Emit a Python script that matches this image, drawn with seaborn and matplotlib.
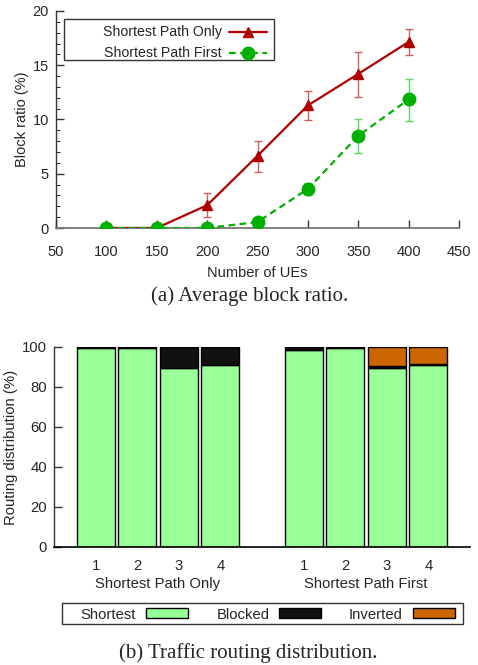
import numpy as np
import pandas as pd
import matplotlib
matplotlib.use("Agg")
import matplotlib.pyplot as plt
import seaborn as sns
from matplotlib.patches import Rectangle
from matplotlib.lines import Line2D
from matplotlib.ticker import MultipleLocator
import matplotlib.transforms as mtransforms

# ---------------- data ----------------
ues = [100, 150, 200, 250, 300, 350, 400]
spo_mean = [0.0, 0.0, 2.1, 6.65, 11.3, 14.2, 17.15]
spo_low = [0.0, 0.0, 1.05, 5.15, 9.95, 12.1, 15.95]
spo_high = [0.0, 0.0, 3.2, 8.05, 12.65, 16.25, 18.35]
spf_mean = [0.0, 0.0, 0.0, 0.55, 3.6, 8.5, 11.85]
spf_low = [0.0, 0.0, 0.0, 0.3, 3.0, 6.95, 9.9]
spf_high = [0.0, 0.0, 0.0, 0.85, 4.15, 10.0, 13.75]

groups = ["Shortest Path Only", "Shortest Path First"]
bar_labels = ["1", "2", "3", "4"]
shortest = [[99.7, 99.7, 89.3, 91.2], [98.5, 99.5, 89.6, 91.1]]
blocked = [[0.3, 0.3, 10.7, 8.8], [1.5, 0.5, 0.7, 0.6]]
inverted = [[0.0, 0.0, 0.0, 0.0], [0.0, 0.0, 9.7, 8.3]]
legend_b = ["Shortest", "Blocked", "Inverted"]

sns.set_theme(style="white")
plt.rcParams["font.family"] = ["Liberation Sans", "DejaVu Sans"]
plt.rcParams["font.size"] = 10

RED = "#b00000"
GREEN = "#00b000"
RED_E = "#d06060"
GREEN_E = "#5fd35f"
LGREEN = "#99ff99"
BLACK = "#111111"
ORANGE = "#cc6600"

W, H = 478, 665
fig = plt.figure(figsize=(W / 100, H / 100), dpi=100)


def fx(px):
    return px / W


def fy(py):
    return 1 - py / H


# ---------------- panel (a) ----------------
ax1 = fig.add_axes([fx(56), fy(228), (459 - 56) / W, (228 - 11) / H])
df = pd.DataFrame({
    "UEs": ues * 2,
    "ratio": spo_mean + spf_mean,
    "series": [groups[0]] * len(ues) + [groups[1]] * len(ues),
})
ax1.errorbar(ues, spo_mean,
             yerr=[np.array(spo_mean) - np.array(spo_low), np.array(spo_high) - np.array(spo_mean)],
             fmt="none", ecolor=RED_E, elinewidth=1.0, capsize=3, capthick=1.0, zorder=2)
ax1.errorbar(ues, spf_mean,
             yerr=[np.array(spf_mean) - np.array(spf_low), np.array(spf_high) - np.array(spf_mean)],
             fmt="none", ecolor=GREEN_E, elinewidth=1.0, capsize=3, capthick=1.0, zorder=2)
sns.lineplot(data=df, x="UEs", y="ratio", hue="series", style="series",
             palette={groups[0]: RED, groups[1]: GREEN},
             dashes={groups[0]: "", groups[1]: (3, 2)},
             markers={groups[0]: "^", groups[1]: "o"},
             markersize=8, linewidth=1.6, markeredgewidth=1.0,
             ax=ax1, legend=False, zorder=3)
for ln in ax1.lines:
    if ln.get_marker() == "^":
        ln.set_markerfacecolor(RED)
        ln.set_markeredgecolor(RED)
        ln.set_markersize(7)
    elif ln.get_marker() == "o":
        ln.set_markerfacecolor(GREEN)
        ln.set_markeredgecolor(GREEN)
        ln.set_markersize(9)

ax1.set_xlim(50, 450)
ax1.set_ylim(0, 20)
ax1.set_xticks([50, 100, 150, 200, 250, 300, 350, 400, 450])
ax1.yaxis.set_major_locator(MultipleLocator(5))
ax1.yaxis.set_minor_locator(MultipleLocator(1))
ax1.tick_params(axis="y", which="major", direction="in", length=6, width=1.0,
                color="#333333", labelsize=10.5, pad=5, left=True, right=False)
ax1.tick_params(axis="x", which="major", direction="in", length=6, width=1.0,
                color="#333333", labelsize=10.5, pad=12, bottom=True, top=False)
ax1.tick_params(axis="y", which="minor", direction="in", length=3, width=0.8,
                color="#333333", left=True)
for s in ["top", "right"]:
    ax1.spines[s].set_visible(False)
ax1.spines["left"].set_color("#333333")
ax1.spines["bottom"].set_color("#777777")
ax1.spines["left"].set_linewidth(1.0)
ax1.spines["bottom"].set_linewidth(1.3)
ax1.set_xlabel("Number of UEs", fontsize=10.5, labelpad=5)
ax1.set_ylabel("Block ratio (%)", fontsize=10.5, labelpad=3)

# gnuplot-style key (text right-aligned, sample on the right)
fig.patches.append(Rectangle((fx(64), fy(60)), (274 - 64) / W, (60 - 19) / H,
                             transform=fig.transFigure, facecolor="white",
                             edgecolor="#333333", linewidth=1.0, zorder=5))
key_rows = [(32, RED, "-", "^", 7), (53, GREEN, (0, (3, 2)), "o", 9)]
for (py, col, ls, mk, ms), name in zip(key_rows, groups):
    fig.text(fx(222), fy(py), name, ha="right", va="center", fontsize=10.2, zorder=6)
    fig.lines.append(Line2D([fx(229), fx(267)], [fy(py), fy(py)], transform=fig.transFigure,
                            color=col, ls=ls, lw=1.6, zorder=6))
    fig.lines.append(Line2D([fx(248)], [fy(py)], transform=fig.transFigure, color=col,
                            marker=mk, markersize=ms, ls="none", zorder=7))

fig.text(fx(250), fy(296), "(a) Average block ratio.", ha="center", va="center",
         fontsize=15, family=["Liberation Serif", "DejaVu Serif"])

# ---------------- panel (b) ----------------
ax2 = fig.add_axes([fx(54), fy(547), 416 / W, 200 / H])
positions = []
ticklabels = []
blend = mtransforms.blended_transform_factory(ax2.transData, ax2.transAxes)
for g, gname in enumerate(groups):
    pos = [g * 5 + i for i in range(4)]
    positions += pos
    ticklabels += bar_labels
    s = np.array(shortest[g])
    b = np.array(blocked[g])
    v = np.array(inverted[g])
    kw = dict(width=0.91, edgecolor="black", linewidth=1.0)
    ax2.bar(pos, s, color=LGREEN, **kw)
    ax2.bar(pos, b, bottom=s, color=BLACK, **kw)
    ax2.bar(pos, v, bottom=s + b, color=ORANGE, **kw)
    ax2.text(np.mean(pos), -(584 - 547) / 200, gname, ha="center", va="center",
             fontsize=10.7, transform=blend)

ax2.set_xlim(-1, 9)
ax2.set_ylim(0, 100)
ax2.set_xticks(positions)
ax2.set_xticklabels(ticklabels)
ax2.yaxis.set_major_locator(MultipleLocator(20))
ax2.tick_params(axis="y", which="major", direction="in", length=6, width=1.0,
                color="#333333", labelsize=10.7, pad=5, left=True)
ax2.tick_params(axis="x", length=0, labelsize=10.7, pad=9)
for s in ["top", "right"]:
    ax2.spines[s].set_visible(False)
ax2.spines["left"].set_color("#333333")
ax2.spines["bottom"].set_color("black")
ax2.spines["left"].set_linewidth(1.0)
ax2.spines["bottom"].set_linewidth(1.2)
ax2.set_ylabel("Routing distribution (%)", fontsize=10.7, labelpad=3)

# gnuplot-style horizontal key
fig.patches.append(Rectangle((fx(62), fy(624)), (463 - 62) / W, (624 - 603) / H,
                             transform=fig.transFigure, facecolor="white",
                             edgecolor="#333333", linewidth=1.0, zorder=5))
key_cols = [(136, 146, LGREEN), (270, 279, BLACK), (403, 413, ORANGE)]
for (tx, px0, col), name in zip(key_cols, legend_b):
    fig.text(fx(tx), fy(615), name, ha="right", va="center", fontsize=10.7, zorder=6)
    fig.patches.append(Rectangle((fx(px0), fy(618)), 42 / W, 10 / H,
                                 transform=fig.transFigure, facecolor=col,
                                 edgecolor="black", linewidth=1.0, zorder=6))

fig.text(fx(248), fy(653), "(b) Traffic routing distribution.", ha="center", va="center",
         fontsize=15, family=["Liberation Serif", "DejaVu Serif"])

fig.savefig("out.png", dpi=100)
